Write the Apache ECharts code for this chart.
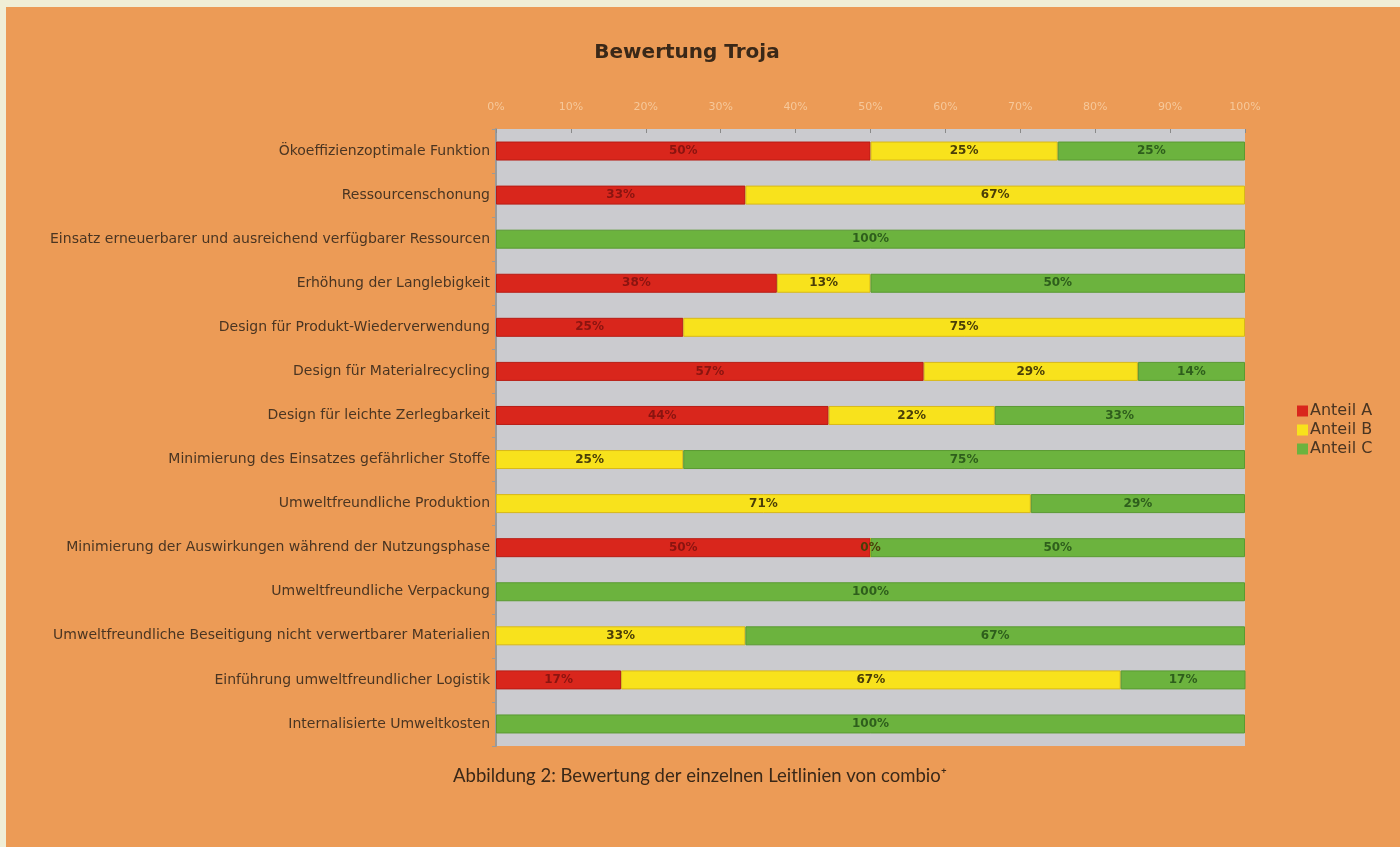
<!DOCTYPE html>
<html>
<head>
<meta charset="utf-8">
<script src="https://cdn.jsdelivr.net/npm/echarts@6/dist/echarts.min.js"></script>
<style>
html,body{margin:0;padding:0;background:#f0eed6;}
#c{width:1400px;height:847px;}
</style>
</head>
<body>
<div id="c"></div>
<script>
const categories = [
  'Ökoeffizienzoptimale Funktion',
  'Ressourcenschonung',
  'Einsatz erneuerbarer und ausreichend verfügbarer Ressourcen',
  'Erhöhung der Langlebigkeit',
  'Design für Produkt-Wiederverwendung',
  'Design für Materialrecycling',
  'Design für leichte Zerlegbarkeit',
  'Minimierung des Einsatzes gefährlicher Stoffe',
  'Umweltfreundliche Produktion',
  'Minimierung der Auswirkungen während der Nutzungsphase',
  'Umweltfreundliche Verpackung',
  'Umweltfreundliche Beseitigung nicht verwertbarer Materialien',
  'Einführung umweltfreundlicher Logistik',
  'Internalisierte Umweltkosten'
];
const anteilA = [50, 33.3, null, 37.5, 25, 57.1, 44.4, null, null, 50, null, null, 16.7, null];
const anteilB = [25, 66.7, null, 12.5, 75, 28.6, 22.2, 25, 71.4, 0, null, 33.3, 66.7, null];
const anteilC = [25, null, 100, 50, null, 14.3, 33.3, 75, 28.6, 50, 100, 66.7, 16.7, 100];
const seriesNames = ['Anteil A', 'Anteil B', 'Anteil C'];

const chart = echarts.init(document.getElementById('c'), null, {renderer: 'canvas'});
const fmt = p => (p.value == null ? '' : Math.round(p.value) + '%');
function mk(name, data, color, border, labelColor) {
  return {
    name: name, type: 'bar', stack: 'total', data: data, barWidth: 19,
    itemStyle: {color: color, borderColor: border, borderWidth: 1},
    label: {show: true, position: 'inside', formatter: fmt, color: labelColor,
            fontFamily: 'DejaVu Sans', fontSize: 12, fontWeight: 'bold'},
    emphasis: {disabled: true}
  };
}
chart.setOption({
  animation: false,
  backgroundColor: '#ec9b56',
  title: {
    text: 'Bewertung Troja', left: 682, top: 38, textAlign: 'center',
    textStyle: {fontFamily: 'DejaVu Sans', fontSize: 20, fontWeight: 'bold', color: '#3a2818'}
  },
  legend: {
    orient: 'vertical', left: 1292, top: 398, itemWidth: 11, itemHeight: 11, itemGap: 3,
    icon: 'rect', data: seriesNames,
    itemStyle: {borderWidth: 0},
    textStyle: {fontFamily: 'DejaVu Sans', fontSize: 16, color: '#4a3522', padding: [0,0,0,-3]}
  },
  grid: {left: 496, right: 155, top: 129, bottom: 101, show: true,
         backgroundColor: '#cbcbcf', borderWidth: 0},
  xAxis: {
    type: 'value', position: 'top', min: 0, max: 100, interval: 10,
    axisLine: {show: false},
    axisTick: {show: true, inside: true, length: 4, lineStyle: {color: '#8a8a8a'}},
    splitLine: {show: false},
    axisLabel: {formatter: v => v + '%', color: '#f6c89a', fontFamily: 'DejaVu Sans', fontSize: 11, margin: 16}
  },
  yAxis: {
    type: 'category', data: categories, inverse: true,
    axisLine: {show: true, lineStyle: {color: '#9a9a9a', width: 2}},
    axisTick: {show: true, length: 4, lineStyle: {color: '#9a9a9a'}},
    axisLabel: {color: '#4a3522', fontFamily: 'DejaVu Sans', fontSize: 14, margin: 6}
  },
  series: [
    mk(seriesNames[0], anteilA, '#d9261c', '#b81c14', '#8a1410'),
    mk(seriesNames[1], anteilB, '#f8e21c', '#d8b818', '#4a3e08'),
    mk(seriesNames[2], anteilC, '#6cb33e', '#5a9a32', '#2e5e1c')
  ],
  graphic: [
    {type: 'rect', shape: {x: 0, y: 0, width: 1400, height: 7}, style: {fill: '#f0eed6'}, z: 100},
    {type: 'rect', shape: {x: 0, y: 0, width: 6, height: 847}, style: {fill: '#f0eed6'}, z: 100},
    {type: 'text', left: 'center', top: 767,
     style: {text: 'Abbildung 2: Bewertung der einzelnen Leitlinien von combio⁺',
             fontFamily: 'Lato', fontSize: 18.5, fill: '#3a2818'}}
  ]
});
</script>
</body>
</html>
